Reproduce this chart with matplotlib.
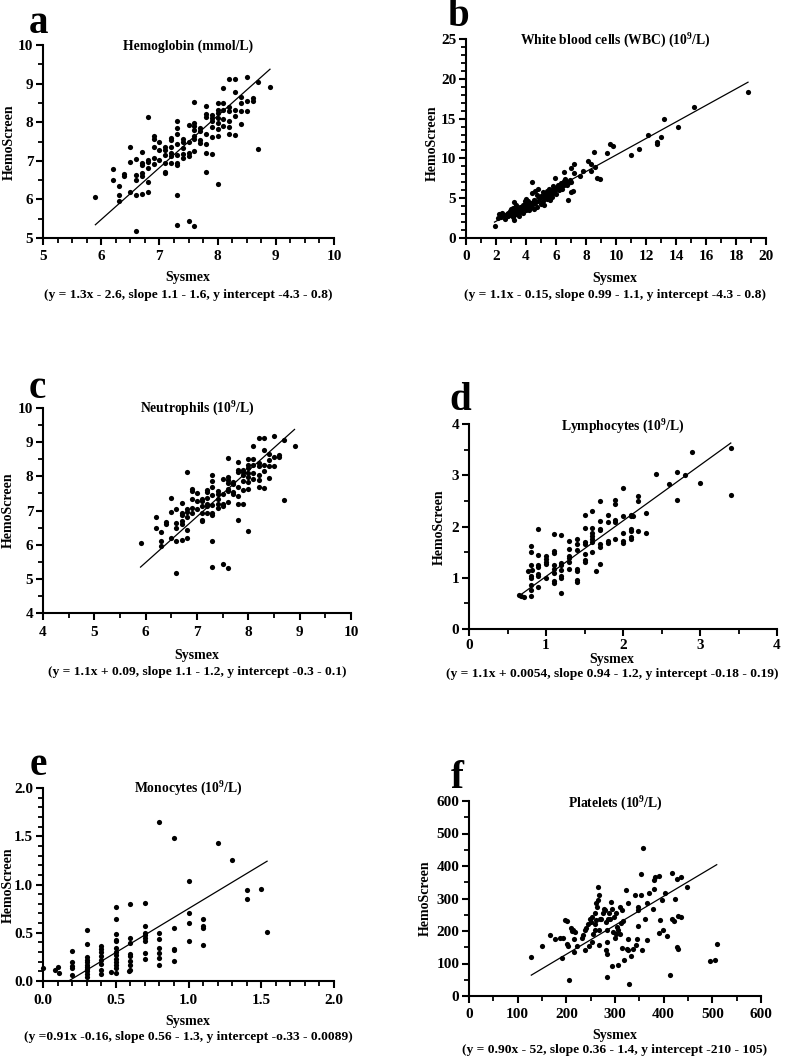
import numpy as np
import matplotlib
matplotlib.use("Agg")
import matplotlib.pyplot as plt
from matplotlib.ticker import MultipleLocator, FormatStrFormatter

plt.rcParams['font.family'] = ['Liberation Serif', 'DejaVu Serif']
plt.rcParams['font.weight'] = 'bold'
plt.rcParams['mathtext.fontset'] = 'custom'
plt.rcParams['mathtext.rm'] = 'Liberation Serif:bold'
plt.rcParams['mathtext.bf'] = 'Liberation Serif:bold'
plt.rcParams['mathtext.it'] = 'Liberation Serif:bold'

# ---------------- data ----------------
# Hemoglobin (also shown in panel c)
hb_sysmex = [5.9, 6.2, 6.2, 6.3, 6.3, 6.3, 6.4, 6.4, 6.5, 6.5, 6.5,
             6.6, 6.6, 6.6, 6.6, 6.6, 6.7, 6.7, 6.7, 6.7, 6.7, 6.7,
             6.8, 6.8, 6.8, 6.8, 6.8, 6.8, 6.9, 6.9, 6.9, 6.9, 6.9,
             7.0, 7.0, 7.0, 7.1, 7.1, 7.1, 7.1, 7.1, 7.1,
             7.2, 7.2, 7.2, 7.2, 7.2, 7.2,
             7.3, 7.3, 7.3, 7.3, 7.3, 7.3, 7.3, 7.3, 7.3,
             7.4, 7.4, 7.4, 7.4, 7.4, 7.5, 7.5, 7.5, 7.5, 7.5,
             7.6, 7.6, 7.6, 7.6, 7.6, 7.6, 7.6, 7.6,
             7.7, 7.7, 7.7, 7.7,
             7.8, 7.8, 7.8, 7.8, 7.8, 7.8, 7.8,
             7.9, 7.9, 7.9, 7.9, 7.9, 7.9,
             8.0, 8.0, 8.0, 8.0, 8.0, 8.0, 8.0, 8.0,
             8.1, 8.1, 8.1, 8.1, 8.1,
             8.2, 8.2, 8.2, 8.2, 8.2, 8.2,
             8.3, 8.3, 8.3, 8.3, 8.3,
             8.4, 8.4, 8.4, 8.4, 8.5, 8.5, 8.5, 8.6, 8.6, 8.7, 8.7, 8.9]
hb_screen = [6.05, 6.8, 6.5, 6.36, 6.11, 5.96, 6.66, 6.6, 6.96, 7.37, 6.2,
             7.05, 6.64, 6.5, 6.11, 5.17, 7.22, 6.94, 6.88, 6.68, 6.6, 6.14,
             8.13, 7.03, 6.97, 6.81, 6.44, 6.2, 7.63, 7.56, 7.35, 7.08, 6.93,
             7.5, 7.27, 7.03, 7.35, 7.27, 7.14, 6.94, 6.72, 6.68,
             7.6, 7.53, 7.37, 7.2, 7.13, 6.94,
             8.03, 7.86, 7.7, 7.44, 7.16, 6.94, 6.88, 6.12, 5.34,
             7.56, 7.48, 7.33, 7.18, 7.07, 7.92, 7.48, 7.2, 7.13, 5.43,
             8.53, 7.99, 7.9, 7.8, 7.63, 7.56, 7.26, 5.32,
             7.84, 7.78, 7.54, 7.47,
             8.42, 8.2, 8.14, 7.69, 7.43, 7.2, 6.72,
             8.19, 8.12, 8.04, 7.87, 7.61, 7.18,
             8.51, 8.32, 8.23, 8.1, 7.99, 7.82, 7.63, 6.41,
             8.88, 8.51, 8.32, 8.09, 7.91,
             9.12, 8.39, 8.29, 8.03, 7.88, 7.69,
             9.12, 8.78, 8.32, 8.15, 7.66,
             8.64, 8.49, 8.3, 7.96, 9.18, 8.56, 8.3, 8.62, 8.56, 9.05, 7.31, 8.9]
hb_fit = (1.343, -2.58)

# White blood cells
wbc_sysmex = [1.9, 2.1, 2.2, 2.3, 2.4, 2.5, 2.6, 2.7,
              2.8, 2.8, 2.9, 2.9, 3.0, 3.0, 3.0, 3.1, 3.1, 3.1, 3.2, 3.2, 3.2, 3.2,
              3.3, 3.3, 3.3, 3.4, 3.4, 3.5, 3.5, 3.6, 3.6,
              3.7, 3.8, 3.8, 3.9, 3.9, 4.0, 4.0, 4.0, 4.1, 4.1, 4.2, 4.2, 4.3, 4.3,
              4.4, 4.4, 4.4, 4.5, 4.5, 4.6, 4.6, 4.7, 4.7, 4.8, 4.8,
              4.9, 5.0, 5.0, 5.1, 5.1, 5.2, 5.2, 5.3, 5.4, 5.4, 5.5, 5.5, 5.6, 5.6,
              5.7, 5.7, 5.8, 5.8, 5.9, 5.9, 6.0, 6.0, 6.1, 6.2, 6.3, 6.3, 6.4,
              6.5, 6.5, 6.5, 6.6, 6.6, 6.7, 6.7, 6.8, 6.8, 6.9, 7.0, 7.0, 7.0, 7.1,
              7.2, 7.2, 7.6, 7.8, 8.1, 8.3, 8.3, 8.5, 8.6, 8.7, 8.9, 9.4, 9.6, 9.8,
              11.0, 11.5, 12.1, 12.7, 12.7, 13.0, 13.2, 14.1, 15.2, 18.8]
wbc_screen = [1.46, 2.5, 3.0, 2.7, 3.1, 2.9, 2.4, 3.0,
              3.2, 2.8, 3.4, 3.0, 3.3, 2.9, 3.6, 3.1, 2.7, 3.8, 4.5, 3.3, 2.2, 2.9,
              3.5, 3.0, 4.1, 3.2, 3.7, 3.4, 2.8, 3.9, 3.3,
              3.6, 4.2, 3.1, 3.9, 4.6, 3.5, 4.3, 4.9, 3.8, 4.6, 4.1, 3.5, 4.4, 3.9,
              7.0, 5.6, 4.2, 3.6, 4.8, 5.9, 4.4, 3.9, 5.4, 4.6, 6.1,
              5.0, 4.3, 5.3, 5.8, 4.7, 5.1, 4.2, 5.5, 4.9, 5.9, 5.3, 6.2, 5.7, 4.8,
              6.0, 5.2, 6.5, 5.6, 7.5, 6.0, 5.5, 6.3, 6.7, 6.0, 6.9, 6.4, 6.2,
              8.3, 7.1, 6.6, 7.4, 6.9, 6.6, 7.0, 4.8, 6.9, 7.3, 8.8, 7.0, 5.8, 5.9,
              9.3, 8.2, 7.8, 8.4, 9.7, 9.3, 8.4, 10.8, 8.9, 7.6, 7.4, 10.7, 11.8, 11.6,
              10.4, 11.2, 13.0, 12.0, 11.8, 12.7, 15.0, 14.0, 16.4, 18.4]
wbc_fit = (1.04, 0.02)

# Lymphocytes
ly_sysmex = [0.65, 0.68, 0.71, 0.76,
             0.8, 0.8, 0.8, 0.8, 0.8, 0.8, 0.8, 0.8, 0.82,
             0.9, 0.9, 0.9, 0.9, 0.9, 0.9, 0.9,
             1.0, 1.0, 1.0, 1.0, 1.0,
             1.1, 1.1, 1.1, 1.1, 1.1, 1.1, 1.1, 1.1,
             1.2, 1.2, 1.2, 1.2, 1.2, 1.2, 1.2,
             1.3, 1.3, 1.3, 1.3, 1.3, 1.3,
             1.4, 1.4, 1.4, 1.4, 1.4, 1.4, 1.4,
             1.5, 1.5, 1.5, 1.5, 1.5, 1.5, 1.5,
             1.6, 1.6, 1.6, 1.6, 1.6, 1.6, 1.6, 1.65,
             1.7, 1.7, 1.7, 1.7, 1.7, 1.7, 1.7,
             1.8, 1.8, 1.8, 1.8,
             1.9, 1.9, 1.9, 1.9, 1.9,
             2.0, 2.0, 2.0, 2.0, 2.0,
             2.1, 2.1, 2.1, 2.1, 2.1, 2.1, 2.13,
             2.2, 2.2, 2.2, 2.3, 2.3,
             2.43, 2.6, 2.7, 2.7, 2.8, 2.9, 3.0, 3.4, 3.4]
ly_screen = [0.66, 0.64, 0.62, 1.14,
             1.61, 1.5, 1.24, 1.03, 1.0, 0.85, 0.77, 0.64, 1.16,
             1.96, 1.45, 1.24, 1.21, 1.07, 1.03, 0.81,
             1.42, 1.37, 1.31, 1.27, 1.0,
             1.85, 1.53, 1.48, 1.24, 1.17, 1.1, 0.93, 0.9,
             1.83, 1.29, 1.24, 1.16, 1.04, 1.0, 0.7,
             1.72, 1.56, 1.43, 1.39, 1.3, 1.18,
             1.76, 1.65, 1.55, 1.17, 1.13, 0.95, 0.91,
             2.23, 1.98, 1.69, 1.65, 1.47, 1.34, 1.31,
             2.3, 1.98, 1.87, 1.81, 1.76, 1.7, 1.5, 1.14,
             2.49, 2.11, 1.96, 1.94, 1.65, 1.6, 1.27,
             2.22, 2.08, 1.72, 1.68,
             2.52, 2.43, 2.13, 2.08, 1.76,
             2.76, 2.21, 1.87, 1.72, 1.68,
             2.2, 2.22, 1.95, 1.92, 1.8, 1.76, 2.21,
             2.59, 2.49, 1.92, 2.26, 1.87,
             3.02, 2.82, 3.06, 2.51, 3.0, 3.46, 2.84, 3.53, 2.62]
ly_fit = (1.085, -0.06)

# Monocytes
mo_sysmex = [0.0, 0.08, 0.1, 0.11,
             0.2, 0.2, 0.2, 0.2, 0.2,
             0.3, 0.3, 0.3, 0.3, 0.3, 0.3, 0.3, 0.3, 0.3, 0.3, 0.3,
             0.4, 0.4, 0.4, 0.4, 0.4, 0.4, 0.4, 0.4,
             0.5, 0.5, 0.5, 0.5, 0.5, 0.5, 0.5, 0.5, 0.5, 0.5, 0.5, 0.5, 0.5, 0.47,
             0.6, 0.6, 0.6, 0.6, 0.6, 0.6, 0.6, 0.6, 0.59,
             0.7, 0.7, 0.7, 0.7, 0.7, 0.7, 0.7, 0.7,
             0.8, 0.8, 0.8, 0.8, 0.8, 0.8, 0.8,
             0.9, 0.9, 0.9, 0.9, 0.9,
             1.0, 1.0, 1.0, 1.0,
             1.1, 1.1, 1.1, 1.1,
             1.2, 1.3, 1.4, 1.4, 1.5, 1.54]
mo_screen = [0.13, 0.11, 0.15, 0.08,
             0.31, 0.2, 0.16, 0.13, 0.06,
             0.53, 0.38, 0.25, 0.22, 0.2, 0.17, 0.15, 0.12, 0.1, 0.07, 0.045,
             0.36, 0.33, 0.3, 0.26, 0.22, 0.18, 0.11, 0.07,
             0.77, 0.64, 0.49, 0.43, 0.41, 0.34, 0.3, 0.27, 0.23, 0.2, 0.17, 0.13, 0.08, 0.09,
             0.8, 0.45, 0.39, 0.28, 0.26, 0.21, 0.17, 0.11, 0.1,
             0.81, 0.57, 0.5, 0.48, 0.45, 0.41, 0.29, 0.23,
             1.65, 0.5, 0.44, 0.34, 0.29, 0.24, 0.17,
             1.48, 0.55, 0.33, 0.32, 0.21,
             1.04, 0.7, 0.6, 0.41,
             0.64, 0.57, 0.55, 0.37,
             1.43, 1.25, 0.94, 0.85, 0.95, 0.51]
mo_fit = (0.91, -0.16)

# Platelets
plt_sysmex = [128, 151, 166, 177, 188, 194, 192, 197, 201, 201, 204, 205, 209, 212,
              214, 218, 216, 216, 221, 232, 234, 238, 238, 240, 244, 247, 249, 250,
              252, 253, 255, 258, 259, 259, 261, 261, 262, 265, 267, 266, 268, 268,
              269, 272, 276, 277, 279, 281, 283, 283, 282, 283, 283, 286, 288, 290,
              292, 293, 295, 293, 298, 300, 302, 303, 305, 307, 307, 310, 310, 312,
              314, 317, 318, 315, 322, 324, 326, 326, 326, 329, 333, 338, 342, 344,
              345, 348, 348, 348, 353, 353, 356, 357, 362, 365, 365, 370, 379, 380,
              382, 380, 391, 391, 392, 396, 398, 403, 406, 412, 418, 418, 422, 423,
              427, 427, 430, 429, 435, 435, 447, 495, 505, 509]
plt_screen = [120, 153, 187, 176, 177, 177, 118, 235, 232, 161, 153, 48, 210, 200,
              204, 197, 174, 134, 153, 180, 187, 202, 141, 210, 223, 154, 238, 228,
              243, 166, 192, 204, 254, 223, 233, 285, 274, 295, 312, 336, 202, 156,
              238, 238, 254, 269, 264, 228, 202, 166, 143, 130, 59, 238, 254, 238,
              290, 269, 197, 91, 244, 177, 192, 254, 211, 95, 204, 274, 192, 225,
              266, 231, 112, 148, 326, 146, 142, 174, 285, 38, 122, 146, 312, 156,
              174, 274, 215, 264, 312, 375, 141, 456, 238, 287, 172, 318, 267, 357,
              365, 329, 370, 194, 233, 295, 202, 318, 186, 64, 377, 238, 231, 297,
              360, 151, 146, 246, 244, 367, 334, 108, 110, 159]
plt_fit = (0.892, -50)

# ---------------- drawing ----------------
W, H = 800, 1058
fig = plt.figure(figsize=(W / 100, H / 100), dpi=100)


def add_panel(box, xs, ys, fit, xlim, ylim, xmaj, xmin, ymaj, ymin, fmt=None, xpad=4):
    l, t, r, b = box
    ax = fig.add_axes([l / W, 1 - b / H, (r - l) / W, (b - t) / H])
    ax.scatter(xs, ys, s=14, color='black', linewidths=0, zorder=3, clip_on=False)
    xx = np.array([min(xs), max(xs)])
    ax.plot(xx, fit[0] * xx + fit[1], color='black', lw=0.9, zorder=2)
    ax.set_xlim(*xlim)
    ax.set_ylim(*ylim)
    ax.xaxis.set_major_locator(MultipleLocator(xmaj))
    ax.xaxis.set_minor_locator(MultipleLocator(xmin))
    ax.yaxis.set_major_locator(MultipleLocator(ymaj))
    ax.yaxis.set_minor_locator(MultipleLocator(ymin))
    for s in ['top', 'right']:
        ax.spines[s].set_visible(False)
    for s in ['left', 'bottom']:
        ax.spines[s].set_linewidth(1.5)
    ax.tick_params(which='major', direction='out', length=5, width=1.5, labelsize=11)
    ax.tick_params(axis='x', which='major', pad=xpad)
    ax.tick_params(axis='y', which='major', pad=2)
    ax.tick_params(which='minor', direction='out', length=3.5, width=1.3)
    if fmt:
        ax.xaxis.set_major_formatter(fmt)
        ax.yaxis.set_major_formatter(fmt)
    for lab in ax.get_xticklabels() + ax.get_yticklabels():
        lab.set_fontweight('bold')
    return ax


def txt(x, y, s, size, va='center', **kw):
    fig.text(x / W, 1 - y / H, s, fontsize=size, fontweight='bold', ha='center', va=va, **kw)


# a
add_panel((43, 45, 334, 238), hb_sysmex, hb_screen, hb_fit, (5, 10), (5, 10), 1, 0.25, 1, 0.5)
# b
add_panel((466, 39, 766, 238), wbc_sysmex, wbc_screen, wbc_fit, (0, 20), (0, 25), 2, 1, 5, 1)
# c
add_panel((43, 408, 351, 613), hb_sysmex, hb_screen, hb_fit, (4, 10), (4, 10), 1, 0.5, 1, 0.5)
# d
add_panel((469, 424, 777, 629), ly_sysmex, ly_screen, ly_fit, (0, 4), (0, 4), 1, 0.5, 1, 0.5, xpad=2)
# e
add_panel((43, 788, 334, 981), mo_sysmex, mo_screen, mo_fit, (0, 2), (0, 2), 0.5, 0.1, 0.5, 0.1,
          FormatStrFormatter('%.1f'))
# f
add_panel((469, 801, 761, 996), plt_sysmex, plt_screen, plt_fit, (0, 600), (0, 600), 100, 50, 100, 50)

# panel letters (baseline positions)
for (x, y, s) in [(38, 33, 'a'), (458, 26, 'b'), (37, 398, 'c'), (460, 410, 'd'), (38, 775, 'e'), (457, 788, 'f')]:
    txt(x, y, s, 28, va='baseline')

# titles
TS = 9.8
txt(188, 46, 'Hemoglobin (mmol/L)', TS)
txt(615, 41, r'White blood cells (WBC) (10$^{9}$/L)', TS)
txt(197, 409, r'Neutrophils (10$^{9}$/L)', TS)
txt(623, 427, r'Lymphocytes (10$^{9}$/L)', TS)
txt(188, 789, r'Monocytes (10$^{9}$/L)', TS)
txt(615, 804, r'Platelets (10$^{9}$/L)', TS)

# y labels
for (x, y) in [(9, 142), (432, 143), (8, 510), (439, 527), (8, 885), (425, 898)]:
    txt(x, y, 'HemoScreen', 10, rotation=90)

# x labels and captions
LS, CS = 10, 9.7
txt(188, 277, 'Sysmex', LS)
txt(188, 295, '(y = 1.3x - 2.6, slope 1.1 - 1.6, y intercept -4.3 - 0.8)', CS)
txt(615, 278, 'Sysmex', LS)
txt(615, 295, '(y = 1.1x - 0.15, slope 0.99 - 1.1, y intercept -4.3 - 0.8)', CS)
txt(197, 655, 'Sysmex', LS)
txt(197, 672, '(y = 1.1x + 0.09, slope 1.1 - 1.2, y intercept -0.3 - 0.1)', CS)
txt(612, 659, 'Sysmex', LS)
txt(612, 674, '(y = 1.1x + 0.0054, slope 0.94 - 1.2, y intercept -0.18 - 0.19)', CS)
txt(188, 1022, 'Sysmex', LS)
txt(188, 1037, '(y =0.91x -0.16, slope 0.56 - 1.3, y intercept -o.33 - 0.0089)', CS)
txt(615, 1035, 'Sysmex', LS)
txt(615, 1050, '(y = 0.90x - 52, slope 0.36 - 1.4, y intercept -210 - 105)', CS)

fig.savefig('out.png', dpi=100, facecolor='white')
